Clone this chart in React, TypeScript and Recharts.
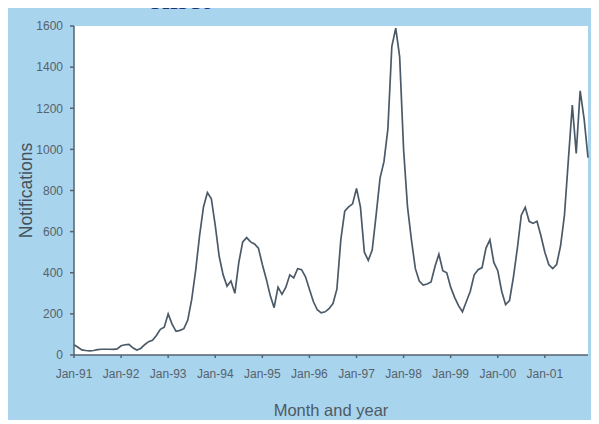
import React from 'react';
import { LineChart, Line, XAxis, YAxis, CartesianGrid, Label } from 'recharts';

const monthNames = ['Jan', 'Feb', 'Mar', 'Apr', 'May', 'Jun', 'Jul', 'Aug', 'Sep', 'Oct', 'Nov', 'Dec'];
const years = ['91', '92', '93', '94', '95', '96', '97', '98', '99', '00', '01'];

// monthly notifications, Jan-91 .. Dec-01
const notifications = [
    50, 38, 25, 22, 20, 22, 26, 28, 28, 28, 27, 30,
    45, 50, 52, 35, 24, 32, 50, 65, 72, 95, 125, 135,
    200, 150, 115, 120, 128, 170, 270, 410, 580, 720, 790, 760,
    630, 480, 390, 335, 360, 300, 450, 550, 571, 550, 540, 520,
    440, 370, 290, 230, 330, 295, 330, 390, 375, 420, 415, 380,
    320, 260, 220, 205, 210, 225, 250, 320, 560, 700, 720, 735,
    810, 720, 500, 460, 510, 680, 860, 940, 1100, 1500, 1590, 1450,
    1000, 720, 560, 420, 360, 340, 345, 355, 430, 490, 410, 400,
    330, 280, 240, 210, 260, 310, 390, 415, 425, 520, 560, 450,
    410, 310, 245, 265, 380, 520, 680, 718, 650, 640, 650, 580,
    500, 440, 420, 440, 530, 680, 950, 1215, 980, 1285, 1150, 960,
];

const yTicks = [0, 200, 400, 600, 800, 1000, 1200, 1400, 1600];

const months = years.flatMap((y) => monthNames.map((m) => `${m}-${y}`));
const data = months.map((month, i) => ({ month, value: notifications[i] }));

const axisColor = '#55636f';
const textColor = '#56626c';
const font = '"Liberation Sans", Arial, sans-serif';

export default function App() {
    return (
        <div style={{ position: 'relative', width: 591, height: 412, background: '#a9d4ee', fontFamily: font }}>
            <div
                style={{
                    position: 'absolute',
                    zIndex: 2,
                    top: -22,
                    left: 140,
                    fontFamily: '"Liberation Serif", "Times New Roman", serif',
                    fontWeight: 'bold',
                    fontSize: 28,
                    lineHeight: 1,
                    color: '#16357a',
                }}
            >
                onset
            </div>
            <LineChart width={591} height={412} data={data} margin={{ top: 18, right: 11, bottom: 0, left: 0 }}>
                <CartesianGrid horizontal={false} vertical={false} fill="#ffffff" />
                <XAxis
                    dataKey="month"
                    interval={11}
                    height={65}
                    stroke={axisColor}
                    strokeWidth={1.5}
                    tickSize={3}
                    tickMargin={11}
                    tick={{ fill: textColor, fontSize: 12, fontFamily: font }}
                >
                    <Label
                        value="Month and year"
                        position="insideBottom"
                        offset={4}
                        fill="#4f5a63"
                        fontSize={16.5}
                        fontFamily={font}
                    />
                </XAxis>
                <YAxis
                    domain={[0, 1600]}
                    ticks={yTicks}
                    width={66}
                    stroke={axisColor}
                    strokeWidth={1.5}
                    tickSize={4}
                    tickMargin={7}
                    tick={{ fill: textColor, fontSize: 12, fontFamily: font }}
                >
                    <Label
                        value="Notifications"
                        angle={-90}
                        position="insideLeft"
                        offset={18}
                        textAnchor="middle"
                        style={{ textAnchor: 'middle' }}
                        fill="#45525c"
                        fontSize={17.5}
                        fontFamily={font}
                    />
                </YAxis>
                <Line
                    type="linear"
                    dataKey="value"
                    stroke="#4b5a68"
                    strokeWidth={1.7}
                    dot={false}
                    isAnimationActive={false}
                />
            </LineChart>
        </div>
    );
}
